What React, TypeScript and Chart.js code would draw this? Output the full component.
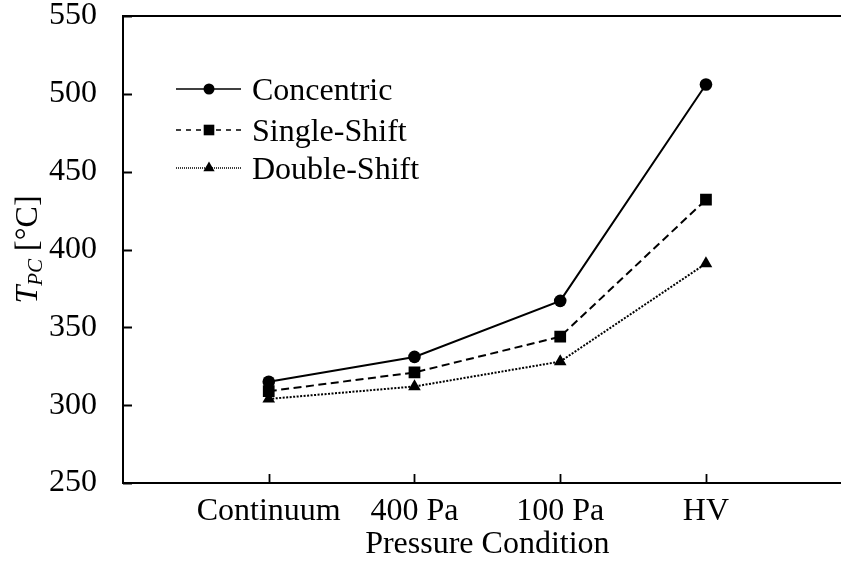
import React, { useEffect, useRef } from 'react';
import { Chart, registerables } from 'chart.js';

Chart.register(...registerables);

const categories = ['Continuum', '400 Pa', '100 Pa', 'HV'];
const seriesNames = ['Concentric', 'Single-Shift', 'Double-Shift'];
const concentric = [315, 331, 367, 506];
const singleShift = [309, 321, 344, 432];
const doubleShift = [304, 312, 328, 391];
const yTicks = [250, 300, 350, 400, 450, 500, 550];
const xTitle = 'Pressure Condition';

const FONT = '"Liberation Serif", "Times New Roman", Times, serif';
const FS = 32;

type Style = { dash: number[]; legendDash: number[]; point: string; r: number; lr: number };
const styles: Style[] = [
  { dash: [], legendDash: [], point: 'circle', r: 6.3, lr: 5.5 },
  { dash: [8, 4.5], legendDash: [5, 5], point: 'rect', r: 8.3, lr: 7.5 },
  { dash: [2, 1.5], legendDash: [1, 1], point: 'triangle', r: 7.3, lr: 6.5 },
];

function drawMarker(ctx: CanvasRenderingContext2D, kind: string, x: number, y: number, r: number) {
  ctx.beginPath();
  if (kind === 'circle') {
    ctx.arc(x, y, r, 0, Math.PI * 2);
  } else if (kind === 'rect') {
    const s = r * Math.SQRT1_2;
    ctx.rect(x - s, y - s, 2 * s, 2 * s);
  } else {
    let a = 0;
    ctx.moveTo(x + Math.sin(a) * r, y - Math.cos(a) * r);
    a += (2 * Math.PI) / 3;
    ctx.lineTo(x + Math.sin(a) * r, y - Math.cos(a) * r);
    a += (2 * Math.PI) / 3;
    ctx.lineTo(x + Math.sin(a) * r, y - Math.cos(a) * r);
    ctx.closePath();
  }
  ctx.fill();
}

const framePlugin = {
  id: 'frame',
  afterDraw(chart: any) {
    const ctx: CanvasRenderingContext2D = chart.ctx;
    const { left, right, top, bottom } = chart.chartArea;
    const xs = chart.scales.x;
    const ys = chart.scales.y;
    ctx.save();
    ctx.strokeStyle = '#000';
    ctx.fillStyle = '#000';
    ctx.lineWidth = 2;
    ctx.setLineDash([]);
    ctx.strokeRect(left, top, right - left, bottom - top);
    // inside ticks
    ctx.lineWidth = 1.8;
    ctx.beginPath();
    yTicks.forEach((v) => {
      const y = Math.round(ys.getPixelForValue(v)) + 0.5;
      ctx.moveTo(left, y);
      ctx.lineTo(left + 9, y);
    });
    categories.forEach((_, i) => {
      const x = Math.round(xs.getPixelForValue(i + 1)) + 0.5;
      ctx.moveTo(x, bottom);
      ctx.lineTo(x, bottom - 9);
    });
    ctx.stroke();

    // legend
    const rows = [89, 130, 168];
    seriesNames.forEach((name, i) => {
      const st = styles[i];
      const y = rows[i];
      ctx.lineWidth = 1.3;
      ctx.setLineDash(st.legendDash);
      ctx.beginPath();
      ctx.moveTo(176, y);
      ctx.lineTo(241, y);
      ctx.stroke();
      ctx.setLineDash([]);
      drawMarker(ctx, st.point, 209, y, st.lr);
      ctx.font = `${FS}px ${FONT}`;
      ctx.textAlign = 'left';
      ctx.textBaseline = 'alphabetic';
      ctx.fillText(name, 252, y + 10.5);
    });

    // x title
    ctx.font = `${FS}px ${FONT}`;
    ctx.textAlign = 'center';
    ctx.textBaseline = 'alphabetic';
    ctx.fillText(xTitle, (left + right) / 2, 553);

    // y title: T_PC [°C]
    const mainItalic = `italic ${FS}px ${FONT}`;
    const subItalic = `italic 21px ${FONT}`;
    const normal = `${FS}px ${FONT}`;
    ctx.font = mainItalic;
    const wT = ctx.measureText('T').width;
    ctx.font = subItalic;
    const wS = ctx.measureText('PC').width;
    ctx.font = normal;
    const wR = ctx.measureText(' [°C]').width;
    const total = wT + wS + wR;
    ctx.translate(37, (top + bottom) / 2);
    ctx.rotate(-Math.PI / 2);
    ctx.textAlign = 'left';
    let x0 = -total / 2;
    ctx.font = mainItalic;
    ctx.fillText('T', x0, 0);
    x0 += wT;
    ctx.font = subItalic;
    ctx.fillText('PC', x0, 5);
    x0 += wS;
    ctx.font = normal;
    ctx.fillText(' [°C]', x0, 0);
    ctx.restore();
  },
};

export default function App() {
  const ref = useRef<HTMLCanvasElement | null>(null);
  useEffect(() => {
    if (!ref.current) return;
    const labels = ['', ...categories, ''];
    const series = [concentric, singleShift, doubleShift];
    const chart = new Chart(ref.current, {
      type: 'line',
      data: {
        labels,
        datasets: series.map((vals, i) => ({
          label: seriesNames[i],
          data: [null, ...vals, null],
          borderColor: '#000',
          backgroundColor: '#000',
          borderWidth: 2,
          borderDash: styles[i].dash,
          pointStyle: styles[i].point as any,
          pointRadius: styles[i].r,
          pointBorderWidth: 0,
          pointBackgroundColor: '#000',
          tension: 0,
          spanGaps: false,
        })),
      },
      options: {
        responsive: false,
        animation: false,
        devicePixelRatio: 1,
        layout: { padding: { top: 16, right: 8, left: 0, bottom: 0 } },
        plugins: { legend: { display: false }, tooltip: { enabled: false } },
        scales: {
          x: {
            type: 'category',
            offset: false,
            grid: { display: false, drawTicks: false },
            border: { display: false },
            ticks: {
              autoSkip: false,
              maxRotation: 0,
              color: '#000',
              padding: 9,
              font: { family: FONT, size: FS },
            },
            afterFit: (s: any) => {
              s.height = 86;
              s.paddingLeft = 0;
              s.paddingRight = 0;
            },
          },
          y: {
            min: 250,
            max: 550,
            grid: { display: false, drawTicks: false },
            border: { display: false },
            ticks: {
              stepSize: 50,
              color: '#000',
              padding: 26,
              font: { family: FONT, size: FS },
            },
            afterFit: (s: any) => {
              s.width = 123;
              s.paddingTop = 0;
              s.paddingBottom = 0;
            },
          },
        },
      },
      plugins: [framePlugin],
    });
    return () => chart.destroy();
  }, []);
  return (
    <div style={{ position: 'fixed', left: 0, top: 0, width: 860, height: 569, background: '#fff' }}>
      <canvas ref={ref} width={860} height={569} style={{ display: 'block', width: 860, height: 569 }} />
    </div>
  );
}
